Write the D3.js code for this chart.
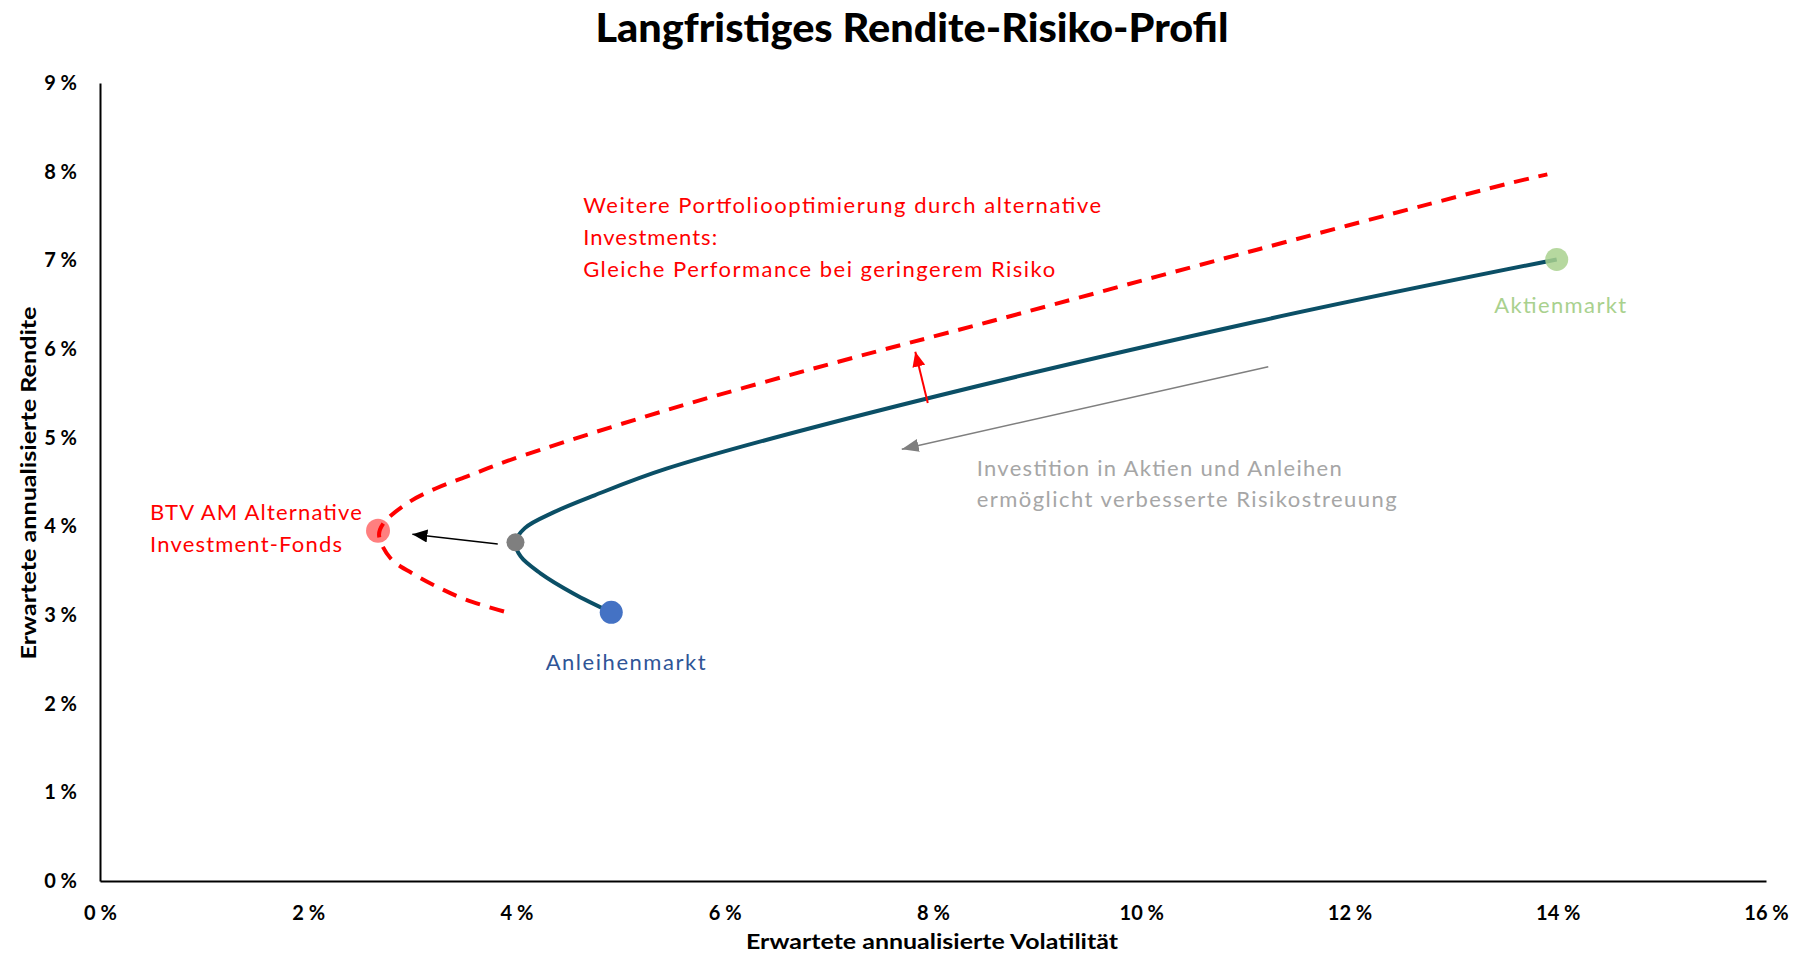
<!DOCTYPE html>
<html>
<head>
<meta charset="utf-8">
<script src="https://d3js.org/d3.v7.min.js"></script>
<style>
  body { margin: 0; background: #fff; }
  text { font-family: Lato, "Open Sans", sans-serif; }
</style>
</head>
<body>
<div id="chart"></div>
<script>
// Size of the drawing area
var svgWidth = 1799;
var svgHeight = 953;

var margin = { top: 83, right: 33, bottom: 72, left: 100 };
var width = svgWidth - margin.left - margin.right;
var height = svgHeight - margin.top - margin.bottom;

// tick values (in %)
var xTicks = [0, 2, 4, 6, 8, 10, 12, 14, 16];
var yTicks = [0, 1, 2, 3, 4, 5, 6, 7, 8, 9];

// efficient frontier Aktien/Anleihen (volatility %, return %)
var frontierVol = [4.91, 4.55, 4.23, 4.04, 3.99, 4.08, 4.36, 4.75, 5.44, 7.36, 11.11, 13.99];
var frontierRet = [3.03, 3.24, 3.47, 3.66, 3.82, 3.98, 4.16, 4.35, 4.65, 5.27, 6.31, 7.01];

// frontier with alternative investments (dashed)
var altVol = [3.88, 3.52, 3.27, 3.03, 2.79, 2.68, 2.72, 2.95, 3.23, 3.52, 3.92, 5.44, 7.04, 8.55, 11.11, 13.54, 13.90];
var altRet = [3.04, 3.17, 3.30, 3.45, 3.64, 3.90, 4.03, 4.26, 4.43, 4.56, 4.74, 5.31, 5.84, 6.31, 7.12, 7.87, 7.97];

// highlighted portfolios
var pointNames = ["Anleihenmarkt", "Aktienmarkt", "Minimum-Varianz", "BTV AM Alternative Investment-Fonds"];
var pointVol = [4.91, 13.99, 3.99, 2.67];
var pointRet = [3.03, 7.01, 3.82, 3.95];

// arrows [fromVol, fromRet, toVol, toRet]
var arrowBlack = [3.82, 3.80, 3.00, 3.91];
var arrowRed = [7.95, 5.39, 7.83, 5.97];
var arrowGray = [11.22, 5.80, 7.70, 4.87];

var svg = d3.select("#chart").append("svg").attr("width", svgWidth).attr("height", svgHeight);
var chartGroup = svg.append("g").attr("transform", `translate(${margin.left}, ${margin.top})`);

var xScale = d3.scaleLinear().domain([0, 16]).range([0, width]);
var yScale = d3.scaleLinear().domain([0, 9]).range([height, 0]);

// title
svg.append("text")
  .attr("x", 912).attr("y", 42)
  .attr("text-anchor", "middle")
  .attr("font-size", 39).attr("font-weight", 900)
  .attr("textLength", 633).attr("lengthAdjust", "spacingAndGlyphs")
  .text("Langfristiges Rendite-Risiko-Profil");

// axes
var bottomAxis = d3.axisBottom(xScale).tickValues(xTicks).tickSize(0).tickSizeOuter(0).tickPadding(25)
  .tickFormat(d => d + " %");
var leftAxis = d3.axisLeft(yScale).tickValues(yTicks).tickSize(0).tickSizeOuter(0).tickPadding(23)
  .tickFormat(d => d + " %");

var xAxis = chartGroup.append("g").attr("transform", `translate(0, ${height})`).call(bottomAxis);
var yAxis = chartGroup.append("g").call(leftAxis);

[xAxis, yAxis].forEach(function(ax) {
  ax.select(".domain").attr("stroke", "#000").attr("stroke-width", 2);
  ax.selectAll("text").attr("font-size", 20).attr("font-weight", 700).attr("fill", "#000")
    .attr("font-family", "Lato, sans-serif");
});

// axis titles
svg.append("text")
  .attr("x", 932).attr("y", 949)
  .attr("text-anchor", "middle")
  .attr("font-size", 20).attr("font-weight", 700)
  .attr("textLength", 372).attr("lengthAdjust", "spacingAndGlyphs")
  .text("Erwartete annualisierte  Volatilität");

svg.append("text")
  .attr("transform", "translate(36, 483) rotate(-90)")
  .attr("text-anchor", "middle")
  .attr("font-size", 20).attr("font-weight", 700)
  .attr("textLength", 353).attr("lengthAdjust", "spacingAndGlyphs")
  .text("Erwartete annualisierte  Rendite");

// arrow heads
var defs = svg.append("defs");
function addMarker(id, color, len, wid) {
  defs.append("marker")
    .attr("id", id)
    .attr("viewBox", `0 0 ${len} ${wid}`)
    .attr("refX", len).attr("refY", wid / 2)
    .attr("markerWidth", len).attr("markerHeight", wid)
    .attr("markerUnits", "userSpaceOnUse")
    .attr("orient", "auto")
    .append("path")
    .attr("d", `M0,0L${len},${wid / 2}L0,${wid}Z`)
    .attr("fill", color);
}
addMarker("headBlack", "#000", 15, 13);
addMarker("headRed", "#ff0000", 15, 13);
addMarker("headGray", "#7f7f7f", 17, 13);

var line = d3.line()
  .x(d => xScale(d[0]))
  .y(d => yScale(d[1]))
  .curve(d3.curveCatmullRom.alpha(0.5));

// red dot sits below the dashed line
chartGroup.append("circle")
  .attr("cx", xScale(pointVol[3])).attr("cy", yScale(pointRet[3]))
  .attr("r", 12).attr("fill", "#ff7f7f");

// dashed frontier with alternatives
chartGroup.append("path")
  .datum(altVol.map((v, i) => [v, altRet[i]]))
  .attr("d", line)
  .attr("fill", "none")
  .attr("stroke", "#ff0000")
  .attr("stroke-width", 4)
  .attr("stroke-dasharray", "15,10");

// solid frontier
chartGroup.append("path")
  .datum(frontierVol.map((v, i) => [v, frontierRet[i]]))
  .attr("d", line)
  .attr("fill", "none")
  .attr("stroke", "#0b4f66")
  .attr("stroke-width", 4);

// arrows
function drawArrow(a, color, w, marker) {
  chartGroup.append("line")
    .attr("x1", xScale(a[0])).attr("y1", yScale(a[1]))
    .attr("x2", xScale(a[2])).attr("y2", yScale(a[3]))
    .attr("stroke", color).attr("stroke-width", w)
    .attr("marker-end", `url(#${marker})`);
}
drawArrow(arrowBlack, "#000", 1.5, "headBlack");
drawArrow(arrowRed, "#ff0000", 2, "headRed");
drawArrow(arrowGray, "#7f7f7f", 1.5, "headGray");

// other dots
chartGroup.append("circle")
  .attr("cx", xScale(pointVol[0])).attr("cy", yScale(pointRet[0]))
  .attr("r", 11.5).attr("fill", "#4472c4");
chartGroup.append("circle")
  .attr("cx", xScale(pointVol[1])).attr("cy", yScale(pointRet[1]))
  .attr("r", 11.5).attr("fill", "#a9d18e").attr("opacity", 0.85);
chartGroup.append("circle")
  .attr("cx", xScale(pointVol[2])).attr("cy", yScale(pointRet[2]))
  .attr("r", 9).attr("fill", "#7f7f7f");

// annotation texts
function addLines(x, y, lines, color, lengths) {
  var t = chartGroup.append("text")
    .attr("font-size", 22).attr("fill", color);
  lines.forEach(function(s, i) {
    t.append("tspan")
      .attr("x", xScale(x)).attr("y", yScale(y) + i * 31.7)
      .attr("textLength", lengths[i]).attr("lengthAdjust", "spacing")
      .text(s);
  });
}
addLines(4.64, 7.53,
  ["Weitere Portfoliooptimierung durch alternative", "Investments:", "Gleiche Performance bei geringerem Risiko"],
  "#ff0000", [518, 134, 472]);
addLines(0.48, 4.07, ["BTV AM Alternative", "Investment-Fonds"], "#ff0000", [212, 192]);
addLines(4.28, 2.38, [pointNames[0]], "#2f5597", [160]);
addLines(13.39, 6.41, [pointNames[1]], "#a9d18e", [132]);
addLines(8.42, 4.57,
  ["Investition in Aktien und Anleihen", "ermöglicht verbesserte Risikostreuung"],
  "#a6a6a6", [365, 420]);
</script>
</body>
</html>
